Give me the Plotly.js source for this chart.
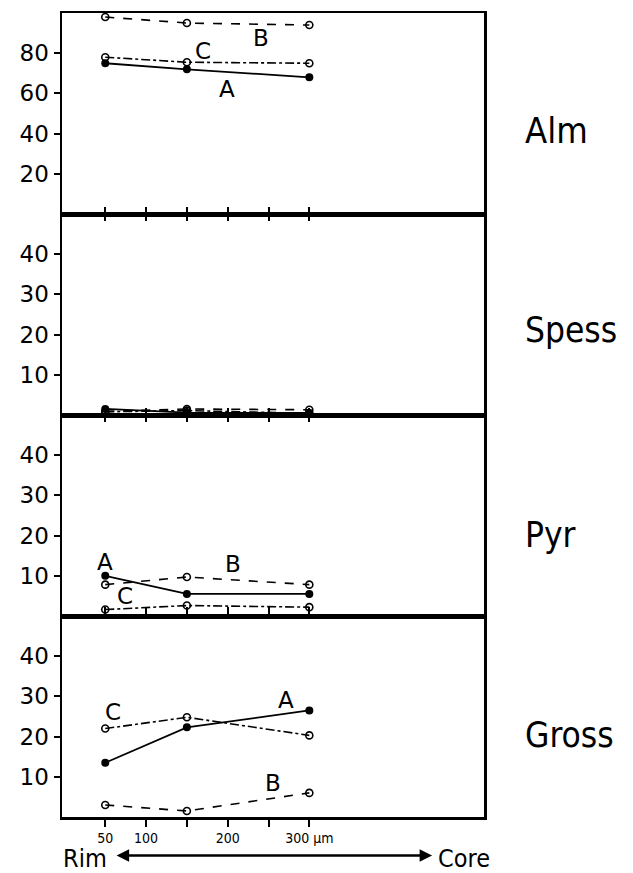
<!DOCTYPE html>
<html><head><meta charset="utf-8">
<script src="https://cdn.plot.ly/plotly-3.0.1.min.js"></script>
<style>html,body{margin:0;padding:0;background:#fff}#c{width:633px;height:873px}</style>
</head><body><div id="c"></div>
<script>
const dist = [50, 150, 300];
const panels = ['Alm', 'Spess', 'Pyr', 'Gross'];
const almA = [75, 72, 68], almB = [98, 95, 94], almC = [78, 75.5, 75];
const spessA = [1.5, 0.6, 0.5], spessB = [0.9, 1.5, 1.3], spessC = [0.8, 1.1, 0.4];
const pyrA = [10, 5.5, 5.5], pyrB = [7.8, 9.7, 7.8], pyrC = [1.6, 2.6, 2.2];
const grossA = [13.5, 22.3, 26.5], grossB = [3, 1.5, 6], grossC = [22, 24.8, 20.3];
const xTickVals = [50, 100, 150, 200, 250, 300];
const xTickText = ['50', '100', '', '200', '', '300 μm'];
const yTicksAlm = [20, 40, 60, 80];
const yTicksOther = [10, 20, 30, 40];
// series label positions [x, y] per panel
const lblAlm = {A: [199, 62], B: [241, 87.5], C: [170, 81]};
const lblPyr = {A: [50, 13.4], B: [206, 12.9], C: [74, 5]};
const lblGross = {A: [272, 29], B: [256, 8.5], C: [60, 26]};

const data = [];
const sets = [[almA, almB, almC], [spessA, spessB, spessC], [pyrA, pyrB, pyrC], [grossA, grossB, grossC]];
sets.forEach((s, i) => {
  const xa = i === 0 ? 'x' : 'x' + (i + 1), ya = i === 0 ? 'y' : 'y' + (i + 1);
  data.push({x: dist, y: s[1], xaxis: xa, yaxis: ya, mode: 'lines+markers', line: {color: '#000', width: 1.6, dash: 'dash'},
    marker: {symbol: 'circle-open', size: 7, color: '#000', line: {width: 1.6}}});
  data.push({x: dist, y: s[2], xaxis: xa, yaxis: ya, mode: 'lines+markers', line: {color: '#000', width: 1.6, dash: 'dashdot'},
    marker: {symbol: 'circle-open', size: 7, color: '#000', line: {width: 1.6}}});
  data.push({x: dist, y: s[0], xaxis: xa, yaxis: ya, mode: 'lines+markers', line: {color: '#000', width: 1.8},
    marker: {symbol: 'circle', size: 8, color: '#000'}});
});

const font = 'DejaVu Sans, sans-serif';
const cond = 'DejaVu Sans Condensed, DejaVu Sans, sans-serif';
const layout = {
  width: 633, height: 873, showlegend: false,
  margin: {l: 62, r: 149, t: 13, b: 56},
  paper_bgcolor: '#fff', plot_bgcolor: '#fff',
  font: {family: font, color: '#000'},
  annotations: [], shapes: []
};
const doms = [[0.75, 1], [0.5, 0.75], [0.25, 0.5], [0, 0.25]];
for (let i = 0; i < 4; i++) {
  const n = i === 0 ? '' : (i + 1);
  layout['xaxis' + n] = {
    domain: [0, 1], anchor: 'y' + n, range: [-3, 514], matches: i === 0 ? undefined : 'x',
    tickmode: 'array', tickvals: xTickVals, ticktext: xTickText,
    ticks: i === 3 ? 'outside' : 'inside', ticklen: 7, tickwidth: 2, tickcolor: '#000',
    showticklabels: i === 3, tickfont: {family: cond, size: 14},
    showline: true, linewidth: 2.5, linecolor: '#000', mirror: i === 0 ? true : 'ticks',
    showgrid: false, zeroline: false, fixedrange: true
  };
  layout['yaxis' + n] = {
    domain: doms[i], anchor: 'x' + n, range: i === 0 ? [0, 100] : [0, 50],
    tickmode: 'array', tickvals: i === 0 ? yTicksAlm : yTicksOther,
    ticks: 'outside', ticklen: 6, tickwidth: 2, tickcolor: '#000',
    tickfont: {family: font, size: 23},
    showline: true, linewidth: 2.5, linecolor: '#000', mirror: true,
    showgrid: false, zeroline: false, fixedrange: true
  };
}
layout.xaxis5 = {overlaying: 'x4', anchor: 'y4', range: [-3, 514], tickmode: 'array', tickvals: xTickVals,
  ticks: 'inside', ticklen: 6, tickwidth: 2, tickcolor: '#000', showticklabels: false, showline: false, showgrid: false, zeroline: false};

const sideY = [0.854, 0.606, 0.351, 0.102];
const sideSize = [36, 35, 35, 35];
panels.forEach((p, i) => layout.annotations.push({text: p, xref: 'paper', yref: 'paper', x: 1.093, y: sideY[i],
  xanchor: 'left', yanchor: 'middle', showarrow: false, font: {family: cond, size: sideSize[i]}}));

function addLbls(obj, xr, yr) {
  Object.keys(obj).forEach(k => layout.annotations.push({text: k, xref: xr, yref: yr, x: obj[k][0], y: obj[k][1],
    xanchor: 'center', yanchor: 'middle', showarrow: false, font: {family: font, size: 23}}));
}
addLbls(lblAlm, 'x', 'y');
addLbls(lblPyr, 'x3', 'y3');
addLbls(lblGross, 'x4', 'y4');

layout.annotations.push({text: 'Rim', xref: 'paper', yref: 'paper', x: 0.054, y: -0.051, xanchor: 'center', yanchor: 'middle',
  showarrow: false, font: {family: cond, size: 25}});
layout.annotations.push({text: 'Core', xref: 'paper', yref: 'paper', x: 0.953, y: -0.051, xanchor: 'center', yanchor: 'middle',
  showarrow: false, font: {family: cond, size: 25}});
layout.annotations.push({text: '', xref: 'paper', yref: 'paper', x: 0.877, y: -0.048, ax: -317, ay: 0,
  showarrow: true, arrowhead: 2, startarrowhead: 2, arrowside: 'end+start', arrowwidth: 2.5, arrowsize: 1, startarrowsize: 1, arrowcolor: '#000'});

Plotly.newPlot('c', data, layout, {staticPlot: true});
</script></body></html>
